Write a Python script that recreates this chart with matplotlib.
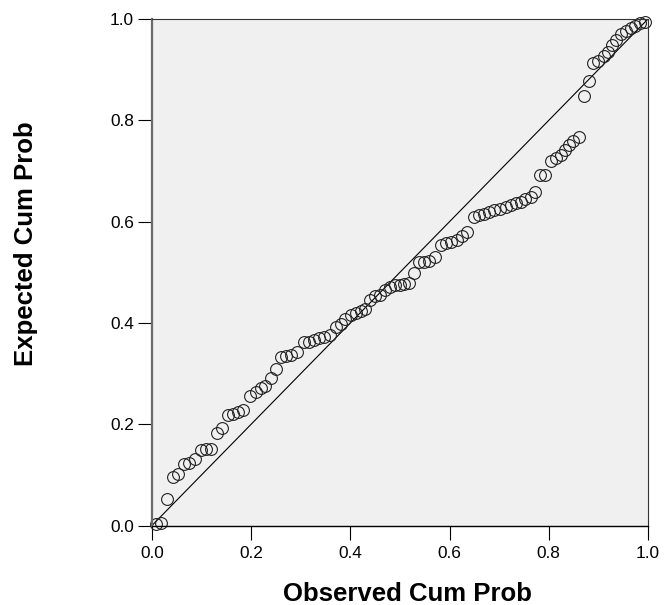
import matplotlib
matplotlib.use('Agg')
import matplotlib.pyplot as plt

# observed vs expected cumulative probabilities
observed_cum_prob = [
    0.008, 0.018, 0.031, 0.042, 0.053, 0.065, 0.075, 0.087, 0.098, 0.109,
    0.119, 0.131, 0.141, 0.154, 0.164, 0.174, 0.184, 0.198, 0.210, 0.220,
    0.228, 0.240, 0.251, 0.261, 0.271, 0.281, 0.293, 0.307, 0.317, 0.327,
    0.337, 0.347, 0.359, 0.370, 0.381, 0.390, 0.401, 0.411, 0.421, 0.429,
    0.440, 0.450, 0.460, 0.470, 0.480, 0.489, 0.499, 0.509, 0.519, 0.528,
    0.539, 0.549, 0.559, 0.571, 0.583, 0.593, 0.603, 0.614, 0.625, 0.635,
    0.649, 0.659, 0.669, 0.679, 0.690, 0.702, 0.713, 0.723, 0.733, 0.743,
    0.753, 0.764, 0.772, 0.782, 0.792, 0.804, 0.814, 0.824, 0.833, 0.841,
    0.849, 0.860, 0.870, 0.882, 0.890, 0.900, 0.911, 0.919, 0.927, 0.936,
    0.945, 0.955, 0.965, 0.974, 0.984, 0.994,
]
expected_cum_prob = [
    0.003, 0.004, 0.053, 0.096, 0.101, 0.121, 0.123, 0.131, 0.149, 0.151,
    0.151, 0.183, 0.193, 0.218, 0.220, 0.224, 0.228, 0.256, 0.264, 0.271,
    0.275, 0.291, 0.308, 0.332, 0.335, 0.337, 0.343, 0.362, 0.363, 0.366,
    0.370, 0.372, 0.376, 0.392, 0.398, 0.407, 0.415, 0.420, 0.424, 0.427,
    0.446, 0.453, 0.455, 0.465, 0.470, 0.475, 0.475, 0.477, 0.478, 0.498,
    0.521, 0.521, 0.523, 0.531, 0.554, 0.557, 0.559, 0.563, 0.571, 0.579,
    0.610, 0.613, 0.615, 0.618, 0.622, 0.624, 0.629, 0.633, 0.636, 0.639,
    0.644, 0.649, 0.659, 0.692, 0.692, 0.720, 0.725, 0.731, 0.741, 0.751,
    0.759, 0.767, 0.848, 0.878, 0.913, 0.917, 0.926, 0.934, 0.949, 0.959,
    0.970, 0.976, 0.982, 0.987, 0.992, 0.995,
]
tick_values = [0.0, 0.2, 0.4, 0.6, 0.8, 1.0]
tick_labels = ['0.0', '0.2', '0.4', '0.6', '0.8', '1.0']

plt.rcParams['font.family'] = ['Liberation Sans', 'DejaVu Sans']

fig = plt.figure(figsize=(6.65, 6.05), dpi=100)
ax = fig.add_axes([152 / 665, 1 - 525.5 / 605, 496 / 665, 506.5 / 605])
ax.set_facecolor('#f0f0f0')

# reference diagonal
ax.plot([0, 1], [0, 1], color='black', linewidth=0.8)
# points
ax.plot(observed_cum_prob, expected_cum_prob, linestyle='none', marker='o',
        markersize=8.5, markerfacecolor='none', markeredgecolor='#222222',
        markeredgewidth=0.8, clip_on=False)

ax.set_xlim(0, 1)
ax.set_ylim(0, 1)
ax.set_xticks(tick_values)
ax.set_xticklabels(tick_labels)
ax.set_yticks(tick_values)
ax.set_yticklabels(tick_labels)
ax.tick_params(axis='both', direction='out', length=10, width=0.8,
               color='black', labelsize=12.4, pad=3)
ax.tick_params(axis='x', pad=5)

ax.spines['left'].set_linewidth(1.6)
ax.spines['left'].set_color('#6b6b6b')
ax.spines['bottom'].set_linewidth(1.0)
ax.spines['bottom'].set_color('black')
ax.spines['top'].set_linewidth(0.8)
ax.spines['top'].set_color('#333333')
ax.spines['right'].set_linewidth(0.8)
ax.spines['right'].set_color('#333333')

# axis titles, placed like the SPSS output
fig.text(407.5 / 665, 1 - 600.7 / 605, 'Observed Cum Prob', fontsize=18.5,
         fontweight='bold', ha='center', va='baseline')
fig.text(33.3 / 665, 1 - 244 / 605, 'Expected Cum Prob', fontsize=18.5,
         fontweight='bold', ha='center', va='baseline', rotation=90,
         rotation_mode='anchor')

fig.savefig('out.png', dpi=100)
plt.close(fig)
